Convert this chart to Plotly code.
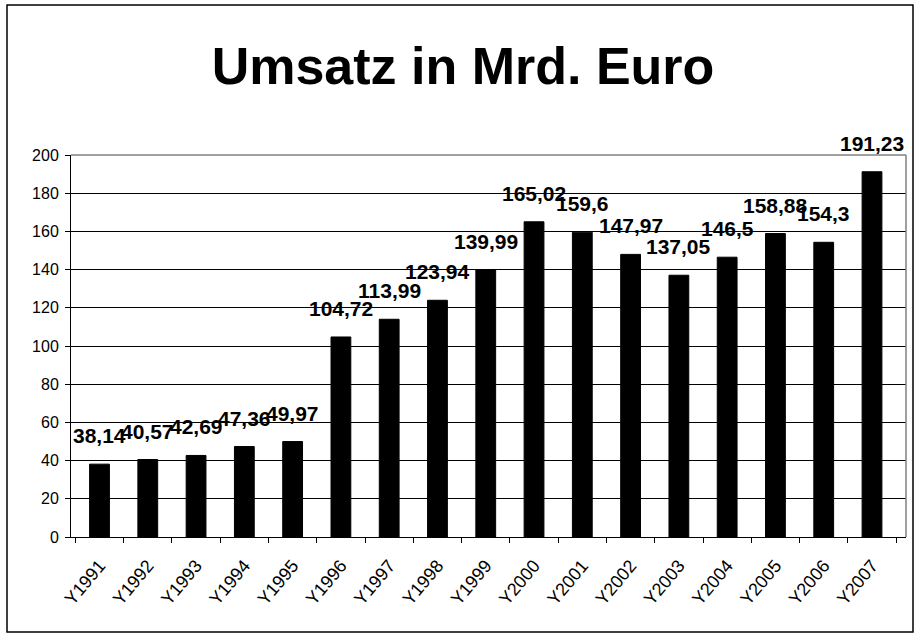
import plotly.graph_objects as go

# ---- data ----
years = ["Y1991", "Y1992", "Y1993", "Y1994", "Y1995", "Y1996", "Y1997", "Y1998", "Y1999",
         "Y2000", "Y2001", "Y2002", "Y2003", "Y2004", "Y2005", "Y2006", "Y2007"]
umsatz = [38.14, 40.57, 42.69, 47.36, 49.97, 104.72, 113.99, 123.94, 139.99,
          165.02, 159.6, 147.97, 137.05, 146.5, 158.88, 154.3, 191.23]
labels = [str(v).replace(".", ",") for v in umsatz]
y_ticks = [0, 20, 40, 60, 80, 100, 120, 140, 160, 180, 200]

W, H = 919, 637
ML, MR, MT, MB = 71, 13, 155, 100
PW, PH = W - ML - MR, H - MT - MB

def px_x(p):
    return (p - ML) / PW

def px_y(p):
    return (H - MB - p) / PH

FONT = "Arial, Liberation Sans, sans-serif"

fig = go.Figure(go.Bar(
    x=years, y=umsatz,
    marker=dict(color="black", line=dict(color="black", width=1)),
    hoverinfo="x+y",
))

annotations = [
    dict(x=c, y=v, text=t, showarrow=False, xref="x", yref="y",
         yanchor="bottom", xanchor="center", yshift=15,
         font=dict(family=FONT, size=21, color="black", weight="bold"))
    for c, v, t in zip(years, umsatz, labels)
]

shapes = [
    # outer chart border
    dict(type="rect", xref="paper", yref="paper",
         x0=px_x(7), x1=px_x(913), y0=px_y(632), y1=px_y(5),
         line=dict(color="black", width=1.5), layer="below"),
    # plot area border: top and right in gray
    dict(type="line", xref="paper", yref="paper", x0=0, x1=1, y0=1, y1=1,
         line=dict(color="#808080", width=1.5), layer="above"),
    dict(type="line", xref="paper", yref="paper", x0=1, x1=1, y0=0, y1=1,
         line=dict(color="#808080", width=1.5), layer="above"),
]

fig.update_layout(
    width=W, height=H,
    margin=dict(l=ML, r=MR, t=MT, b=MB, pad=0),
    paper_bgcolor="white", plot_bgcolor="white",
    title=dict(text="Umsatz in Mrd. Euro", x=463 / W, xref="container", xanchor="center",
               y=1 - 66 / H, yref="container", yanchor="middle",
               font=dict(family=FONT, size=52, color="black", weight="bold")),
    bargap=0.59,
    showlegend=False,
    annotations=annotations,
    shapes=shapes,
    xaxis=dict(
        type="category", tickson="boundaries", ticks="outside", ticklen=5,
        tickcolor="black", tickwidth=1, showline=True, linecolor="black", linewidth=1,
        showgrid=False, tickangle=-50, ticklabelstandoff=10,
        tickfont=dict(family=FONT, size=18, color="black"),
    ),
    yaxis=dict(
        range=[0, 200], tickvals=y_ticks, ticks="outside", ticklen=5,
        tickcolor="black", tickwidth=1, showline=True, linecolor="black", linewidth=1,
        showgrid=True, gridcolor="black", gridwidth=1, zeroline=False,
        ticklabelstandoff=3,
        tickfont=dict(family=FONT, size=16, color="black"),
    ),
)

fig.write_html("out.html", config={"displayModeBar": False},
               post_script="document.body.style.margin='0';")
